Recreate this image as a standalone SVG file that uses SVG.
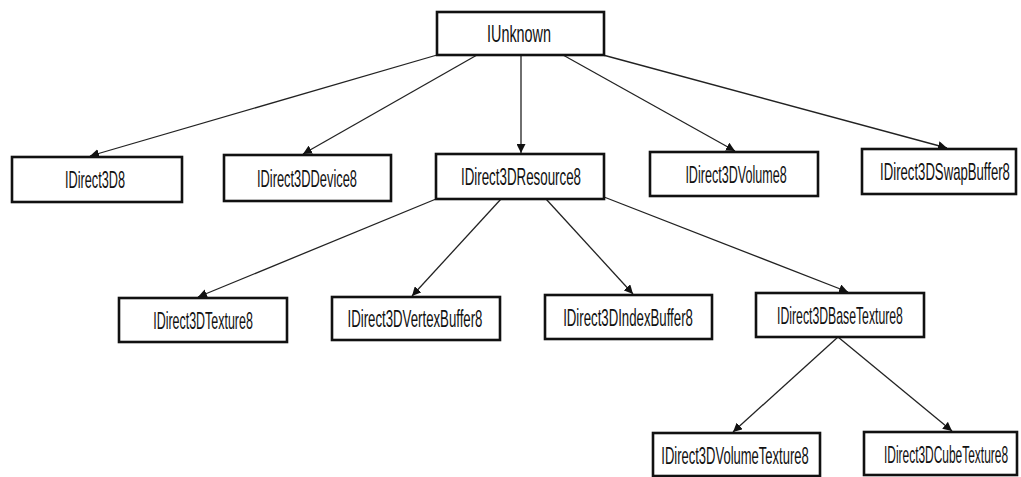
<svg xmlns="http://www.w3.org/2000/svg" width="1021" height="477" viewBox="0 0 1021 477">
<style>
.box{fill:#fff;stroke:#111;stroke-width:2.6}
.lbl{font-family:"Liberation Sans",Arial,sans-serif;font-size:24px;fill:#111;text-anchor:middle}
.edge{stroke:#222;stroke-width:1.3;fill:none;marker-end:url(#arr)}
</style>
<defs>
<marker id="arr" viewBox="0 0 10 10" refX="10" refY="5" markerWidth="9" markerHeight="9" markerUnits="userSpaceOnUse" orient="auto">
<path d="M0,0 L10,5 L0,10 z" fill="#111"/>
</marker>
</defs>
<rect width="1021" height="477" fill="#fff"/>
<g id="connectors">
<line class="edge" x1="437" y1="55" x2="90" y2="156"/>
<line class="edge" x1="477" y1="55" x2="303" y2="154"/>
<line class="edge" x1="521" y1="55" x2="521" y2="153"/>
<line class="edge" x1="563" y1="55" x2="735" y2="151"/>
<line class="edge" x1="603" y1="55" x2="947" y2="148"/>
<line class="edge" x1="436" y1="199" x2="198" y2="297"/>
<line class="edge" x1="501" y1="199" x2="412" y2="296"/>
<line class="edge" x1="546" y1="199" x2="633" y2="294"/>
<line class="edge" x1="604" y1="197" x2="848" y2="292"/>
<line class="edge" x1="838" y1="337" x2="733" y2="432"/>
<line class="edge" x1="838" y1="337" x2="952" y2="431"/>
</g>
<g id="IUnknown"><rect class="box" x="437" y="12" width="167" height="43"/><text class="lbl" transform="translate(519,42) scale(0.6,1)">IUnknown</text></g>
<g id="IDirect3D8"><rect class="box" x="12" y="157" width="170" height="45"/><text class="lbl" transform="translate(95,188) scale(0.53,1)">IDirect3D8</text></g>
<g id="IDirect3DDevice8"><rect class="box" x="224" y="155" width="167" height="46"/><text class="lbl" transform="translate(307,187) scale(0.536,1)">IDirect3DDevice8</text></g>
<g id="IDirect3DResource8"><rect class="box" x="436" y="154" width="168" height="45"/><text class="lbl" transform="translate(521,185) scale(0.556,1)">IDirect3DResource8</text></g>
<g id="IDirect3DVolume8"><rect class="box" x="650" y="152" width="168" height="44"/><text class="lbl" transform="translate(736,183) scale(0.524,1)">IDirect3DVolume8</text></g>
<g id="IDirect3DSwapBuffer8"><rect class="box" x="862" y="149" width="154" height="45"/><text class="lbl" transform="translate(945,180) scale(0.548,1)">IDirect3DSwapBuffer8</text></g>
<g id="IDirect3DTexture8"><rect class="box" x="119" y="298" width="168" height="44"/><text class="lbl" transform="translate(203,329) scale(0.519,1)">IDirect3DTexture8</text></g>
<g id="IDirect3DVertexBuffer8"><rect class="box" x="332" y="297" width="168" height="43"/><text class="lbl" transform="translate(415,327) scale(0.551,1)">IDirect3DVertexBuffer8</text></g>
<g id="IDirect3DIndexBuffer8"><rect class="box" x="545" y="295" width="167" height="44"/><text class="lbl" transform="translate(628,326) scale(0.551,1)">IDirect3DIndexBuffer8</text></g>
<g id="IDirect3DBaseTexture8"><rect class="box" x="756" y="293" width="168" height="44"/><text class="lbl" transform="translate(840,324) scale(0.51,1)">IDirect3DBaseTexture8</text></g>
<g id="IDirect3DVolumeTexture8"><rect class="box" x="653" y="433" width="167" height="43"/><text class="lbl" transform="translate(735,464) scale(0.542,1)">IDirect3DVolumeTexture8</text></g>
<g id="IDirect3DCubeTexture8"><rect class="box" x="864" y="432" width="153" height="43"/><text class="lbl" transform="translate(946,463) scale(0.498,1)">IDirect3DCubeTexture8</text></g>
</svg>
